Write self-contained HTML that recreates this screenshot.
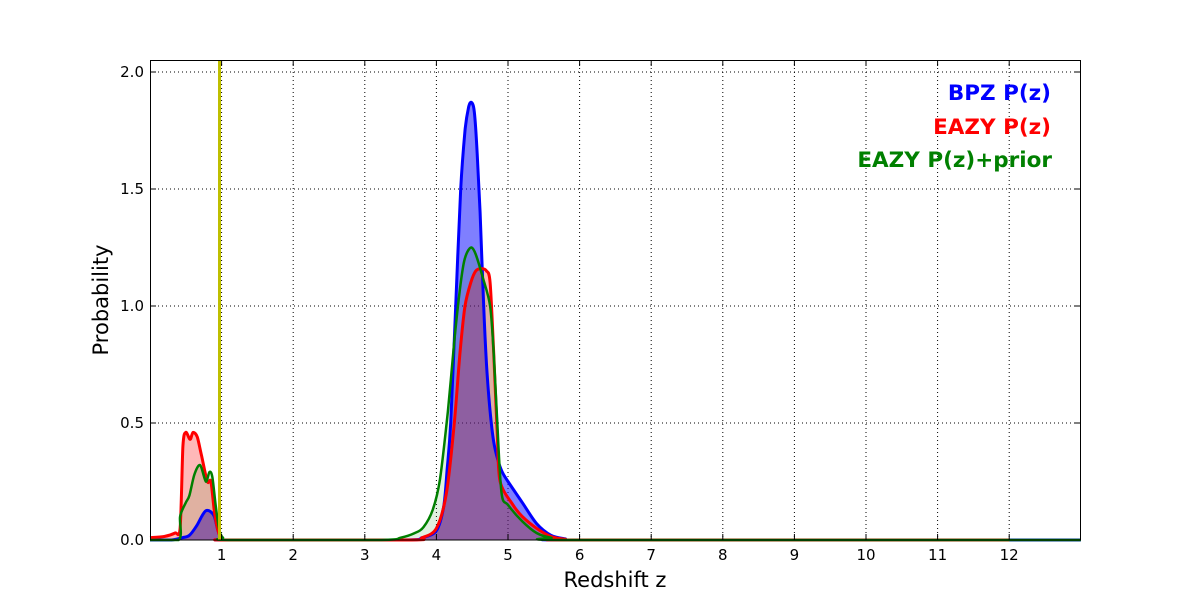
<!DOCTYPE html>
<html><head><meta charset="utf-8"><style>
html,body{margin:0;padding:0;background:#fff;}
svg{display:block;font-family:"DejaVu Sans","Liberation Sans",sans-serif;}
</style></head><body>
<svg id="s" width="1200" height="600" viewBox="0 0 1200 600" xmlns="http://www.w3.org/2000/svg">
<rect width="1200" height="600" fill="#fff"/>
<g id="grid" stroke="#000" stroke-width="1" stroke-dasharray="1,3"></g>
<g id="fills"></g>
<g id="lines"></g>
<line x1="219.5" y1="60" x2="219.5" y2="540" stroke="#bfbf00" stroke-width="3"/>
<rect x="150.5" y="60.5" width="930" height="479.5" fill="none" stroke="#000" stroke-width="1"/>
<g id="ticks" stroke="#000"></g>
<g id="labels" font-size="15" fill="#000"></g>
<text x="615" y="587" font-size="21" text-anchor="middle">Redshift z</text>
<text transform="translate(108,300) rotate(-90)" font-size="21" text-anchor="middle">Probability</text>
<g font-size="21.5" font-weight="bold" text-anchor="end">
<text x="1051" y="100" fill="#0000ff">BPZ P(z)</text>
<text x="1051" y="134" fill="#ff0000">EAZY P(z)</text>
<text x="1052" y="167" fill="#008000">EAZY P(z)+prior</text>
</g>
</svg>
<script>
var X=function(z){return 150+z*71.6;},Y=function(p){return 540-p*234;};
var ns="http://www.w3.org/2000/svg";
function el(p,t,a){var e=document.createElementNS(ns,t);for(var k in a)e.setAttribute(k,a[k]);p.appendChild(e);return e;}
var g=document.getElementById('grid'),tk=document.getElementById('ticks'),lb=document.getElementById('labels');
for(var i=1;i<=12;i++){var x=X(i);el(g,'line',{x1:x,y1:60,x2:x,y2:540});
el(tk,'line',{x1:x,y1:540,x2:x,y2:534});el(tk,'line',{x1:x,y1:60,x2:x,y2:66});
var t=el(lb,'text',{x:x,y:560,'text-anchor':'middle'});t.textContent=i;}
for(var j=0;j<=4;j++){var v=j*0.5,y=Y(v);if(j>0)el(g,'line',{x1:150,y1:y,x2:1080,y2:y});
el(tk,'line',{x1:150,y1:y,x2:156,y2:y});el(tk,'line',{x1:1080,y1:y,x2:1074,y2:y});
var t=el(lb,'text',{x:144,y:y+5,'text-anchor':'end'});t.textContent=v.toFixed(1);}
var blue=[[0,0],[0.3,0],[0.45,0.01],[0.55,0.02],[0.65,0.06],[0.72,0.1],[0.78,0.125],[0.85,0.12],[0.9,0.1],[0.95,0.04],[1.0,0.005],[1.1,0],[3.5,0],[3.8,0.01],[4.0,0.04],[4.1,0.14],[4.15,0.3],[4.2,0.5],[4.27,1.0],[4.34,1.5],[4.4,1.75],[4.45,1.85],[4.49,1.87],[4.53,1.83],[4.57,1.65],[4.61,1.4],[4.66,1.0],[4.7,0.75],[4.75,0.55],[4.8,0.42],[4.86,0.34],[4.92,0.29],[5.0,0.25],[5.2,0.16],[5.4,0.07],[5.6,0.02],[5.8,0.005],[6,0],[13,0]];
var red=[[0,0.01],[0.2,0.015],[0.35,0.03],[0.42,0.05],[0.46,0.4],[0.5,0.46],[0.56,0.43],[0.6,0.46],[0.66,0.44],[0.72,0.36],[0.8,0.25],[0.85,0.25],[0.9,0.12],[0.95,0.04],[1.0,0.005],[1.1,0],[3.6,0],[3.8,0.01],[4.0,0.05],[4.14,0.2],[4.25,0.5],[4.33,0.8],[4.4,1.0],[4.48,1.1],[4.55,1.15],[4.63,1.16],[4.7,1.15],[4.75,1.1],[4.8,0.8],[4.85,0.45],[4.89,0.25],[5.07,0.15],[5.2,0.1],[5.4,0.05],[5.6,0.015],[5.8,0.003],[6,0],[12,0]];
var green=[[0,0],[0.4,0],[0.42,0.1],[0.5,0.16],[0.55,0.19],[0.62,0.28],[0.7,0.32],[0.78,0.25],[0.83,0.29],[0.87,0.27],[0.92,0.14],[0.97,0.04],[1.02,0.01],[1.1,0],[3.2,0],[3.5,0.01],[3.7,0.03],[3.82,0.055],[3.95,0.13],[4.05,0.26],[4.16,0.55],[4.25,0.85],[4.32,1.05],[4.38,1.18],[4.43,1.23],[4.49,1.25],[4.55,1.22],[4.65,1.12],[4.75,1.0],[4.8,0.8],[4.85,0.5],[4.91,0.2],[5.0,0.15],[5.2,0.08],[5.4,0.03],[5.6,0.01],[6,0],[13,0]];
function path(d){var P=d.map(function(p){return [X(p[0]),Y(p[1])];});var s='M'+P[0][0]+','+P[0][1];
for(var i=0;i<P.length-1;i++){var p0=P[i-1]||P[i],p1=P[i],p2=P[i+1],p3=P[i+2]||p2;var k=0.15;
var c1x=p1[0]+(p2[0]-p0[0])*k,c1y=p1[1]+(p2[1]-p0[1])*k,c2x=p2[0]-(p3[0]-p1[0])*k,c2y=p2[1]-(p3[1]-p1[1])*k;
c1y=Math.min(c1y,540);c2y=Math.min(c2y,540);
s+=' C'+c1x.toFixed(1)+','+c1y.toFixed(1)+' '+c2x.toFixed(1)+','+c2y.toFixed(1)+' '+p2[0].toFixed(1)+','+p2[1].toFixed(1);}return s;}
function fillPath(d){var a=d[0],b=d[d.length-1];return path(d)+' L'+X(b[0])+',540 L'+X(a[0])+',540 Z';}
var f=document.getElementById('fills'),l=document.getElementById('lines');
el(f,'path',{d:fillPath(blue),fill:'rgba(0,0,255,0.5)'});
el(f,'path',{d:fillPath(red),fill:'rgba(255,0,0,0.28)'});
el(f,'path',{d:fillPath(green),fill:'rgba(0,128,0,0.12)'});
el(l,'path',{d:path(blue),fill:'none',stroke:'#0000ff','stroke-width':3,'stroke-linejoin':'round'});
el(l,'path',{d:path(red),fill:'none',stroke:'#ff0000','stroke-width':3,'stroke-linejoin':'round'});
el(l,'path',{d:path(green),fill:'none',stroke:'#008000','stroke-width':2.5,'stroke-linejoin':'round'});
</script>
</body></html>
